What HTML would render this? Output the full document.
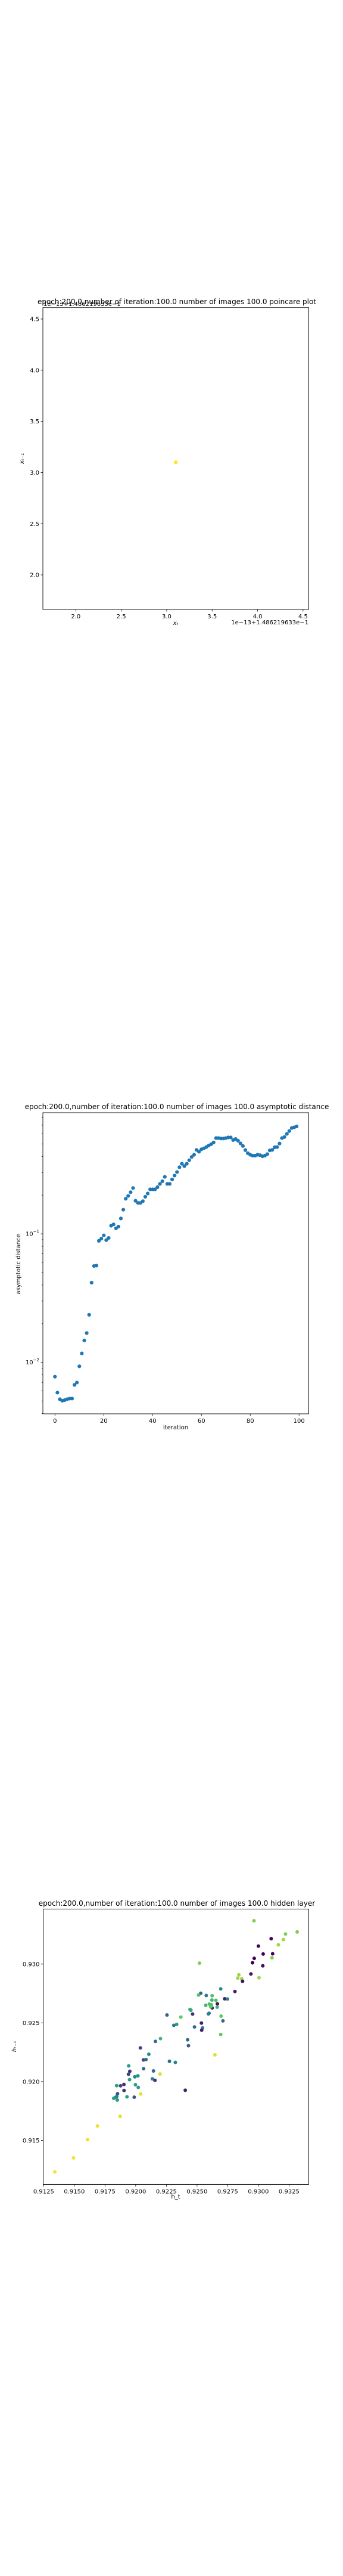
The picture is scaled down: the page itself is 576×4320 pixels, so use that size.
<!DOCTYPE html>
<html><head><meta charset="utf-8">
<style>
html,body{margin:0;padding:0;background:#fff;}
svg{display:block;font-family:"DejaVu Sans","Liberation Sans",sans-serif;}
</style></head>
<body>
<svg id="fig" width="576" height="4320" viewBox="0 0 576 4320" xmlns="http://www.w3.org/2000/svg">
<rect width="576" height="4320" fill="#fff"/>
<g id="c1"></g>
<g id="c2"></g>
<g id="c3"></g>
</svg>
<script>
// ---- Chart 1 data (poincare) ----
const poincareX = [3.1];
const poincareY = [3.1];
const poincareTicks = [2.0, 2.5, 3.0, 3.5, 4.0, 4.5];

// ---- Chart 2 data (asymptotic distance) ----
const iterations = Array.from({length:100},(_, i)=>i);
const asymDist = [0.00774,0.00582,0.00517,0.00503,0.00509,0.00517,0.00523,0.00523,0.00668,0.00697,
0.00932,0.01175,0.0148,0.0169,0.02344,0.0417,0.0562,0.0566,0.0882,0.0917,
0.0973,0.0893,0.0928,0.1156,0.1184,0.1103,0.1138,0.1316,0.154,0.1874,
0.1971,0.2107,0.227,0.1808,0.1738,0.1738,0.1794,0.1941,0.2058,0.2218,
0.2218,0.2218,0.2306,0.2445,0.2563,0.2773,0.2445,0.2445,0.2646,0.2838,
0.3022,0.3296,0.3508,0.336,0.3508,0.3736,0.3963,0.4121,0.4493,0.4353,
0.4546,0.4617,0.4728,0.4859,0.4977,0.5131,0.5553,0.5553,0.551,0.551,
0.5553,0.5619,0.5619,0.5358,0.5465,0.5297,0.5052,0.482,0.4477,0.4236,
0.4121,0.4055,0.4055,0.4121,0.4089,0.4009,0.4055,0.4169,0.4457,0.4493,
0.471,0.4728,0.5035,0.5553,0.5662,0.5984,0.6295,0.6652,0.673,0.6839];
const iterTicks = [0,20,40,60,80,100];

// ---- Chart 3 data (hidden layer) ----
const hT = [0.92964,0.93316,0.93221,0.93204,0.93104,0.93000,0.93163,0.93039,0.93116,0.93111,
0.92966,0.92952,0.93036,0.92520,0.92939,0.92841,0.92832,0.92864,0.92871,0.93005,
0.92693,0.92809,0.92530,0.92513,0.92575,0.92623,0.92725,0.92748,0.92621,0.92654,
0.92571,0.92600,0.92616,0.92666,0.92623,0.92611,0.92664,0.92443,0.92450,0.92593,
0.92598,0.92464,0.92255,0.92368,0.92696,0.92711,0.92536,0.92334,0.92311,0.92479,
0.92545,0.92538,0.92693,0.92202,0.92423,0.92161,0.92430,0.92038,0.92646,0.92107,
0.92063,0.92084,0.92275,0.92323,0.91943,0.92064,0.91952,0.92145,0.91941,0.92198,
0.92018,0.91993,0.91950,0.92136,0.92157,0.91904,0.91877,0.91845,0.91998,0.92021,
0.91905,0.92404,0.91852,0.92041,0.91929,0.91988,0.91845,0.91834,0.91821,0.91850,
0.91873,0.91688,0.91607,0.91493,0.91341];
const hPrev = [0.93369,0.93274,0.93256,0.93209,0.93216,0.93153,0.93164,0.93086,0.93088,0.93054,
0.93049,0.93011,0.92985,0.93009,0.92916,0.92909,0.92881,0.92875,0.92854,0.92884,
0.92789,0.92767,0.92752,0.92737,0.92733,0.92731,0.92705,0.92703,0.92694,0.92692,
0.92649,0.92660,0.92655,0.92662,0.92627,0.92636,0.92634,0.92614,0.92608,0.92576,
0.92582,0.92575,0.92567,0.92549,0.92558,0.92517,0.92498,0.92487,0.92479,0.92465,
0.92457,0.92438,0.92401,0.92366,0.92356,0.92343,0.92306,0.92287,0.92228,0.92233,
0.92185,0.92188,0.92173,0.92164,0.92134,0.92110,0.92088,0.92091,0.92063,0.92065,
0.92049,0.92041,0.92017,0.92024,0.92011,0.91976,0.91965,0.91966,0.91974,0.91951,
0.91925,0.91927,0.91897,0.91895,0.91871,0.91868,0.91873,0.91866,0.91858,0.91843,
0.91705,0.91623,0.91507,0.91351,0.91233];
const hColor = [0.8,0.8,0.8,0.85,0.0,0.0,0.85,0.0,0.0,0.8,
0.0,0.0,0.05,0.8,0.05,0.85,0.85,0.85,0.05,0.85,
0.5,0.1,0.3,0.7,0.4,0.7,0.1,0.45,0.65,0.7,
0.65,0.7,0.7,0.05,0.1,0.75,0.65,0.6,0.6,0.35,
0.45,0.15,0.3,0.75,0.75,0.35,0.1,0.55,0.4,0.35,
0.45,0.1,0.75,0.65,0.35,0.35,0.3,0.2,0.95,0.5,
0.2,0.35,0.35,0.45,0.55,0.35,0.15,0.35,0.2,0.95,
0.5,0.45,0.55,0.45,0.15,0.15,0.2,0.55,0.55,0.55,
0.15,0.1,0.25,0.95,0.55,0.25,0.4,0.5,0.55,0.55,
0.95,0.97,0.97,0.98,0.98];
const hXTicks = [0.9125,0.9150,0.9175,0.9200,0.9225,0.9250,0.9275,0.9300,0.9325];
const hYTicks = [0.915,0.920,0.925,0.930];

const NS="http://www.w3.org/2000/svg";
function mk(parent, tag, attrs, text){
  const e=document.createElementNS(NS,tag);
  for(const k in attrs) e.setAttribute(k, attrs[k]);
  if(text!==undefined) e.textContent=text;
  parent.appendChild(e); return e;
}
function viridis(t){
  const s=[[68,1,84],[59,82,139],[33,145,140],[94,201,98],[253,231,37]];
  t=Math.max(0,Math.min(1,t))*4; const i=Math.min(3,Math.floor(t)); const f=t-i;
  const c=s[i].map((v,k)=>Math.round(v+(s[i+1][k]-v)*f));
  return `rgb(${c[0]},${c[1]},${c[2]})`;
}
function frame(g,L,T,R,B){
  const r=mk(g,'rect',{x:L,y:T,width:R-L,height:B-T,fill:'none',stroke:'#000','stroke-width':0.9});
  
  
}
function xtick(g,x,B,label){
  const l=mk(g,'line',{x1:x,x2:x,y1:B,y2:B+3.5,stroke:'#000','stroke-width':0.8});
  
  
  const t=mk(g,'text',{x:x,y:B+15,'font-size':10,'text-anchor':'middle',fill:'#000'},label);
  
  
}
function ytick(g,y,L,label,len){
  const l=mk(g,'line',{x1:L-(len||3.5),x2:L,y1:y,y2:y,stroke:'#000','stroke-width':0.8});
  
  
  if(label!==null){
    const t=mk(g,'text',{x:L-6,y:y+3.5,'font-size':10,'text-anchor':'end',fill:'#000'},label);
    
    
  }
}

// ---------- Chart 1 ----------
(function(){
  const g=document.getElementById('c1');
  const L=72,R=518.4,T=515.7,B=1022;
  const x0=1.6375,x1=4.5625,y0=1.6625,y1=4.6125;
  const sx=v=>L+(v-x0)/(x1-x0)*(R-L);
  const sy=v=>B-(v-y0)/(y1-y0)*(B-T);
  frame(g,L,T,R,B);
  poincareTicks.forEach(v=>{xtick(g,sx(v),B,v.toFixed(1)); ytick(g,sy(v),L,v.toFixed(1));});
  poincareX.forEach((v,i)=>{
    const c=mk(g,'circle',{cx:sx(v),cy:sy(poincareY[i]),r:3.2,fill:'#fde725'});
    
    
  });
  const ti=mk(g,'text',{x:297,y:510,'font-size':12,'text-anchor':'middle'},'epoch:200.0,number of iteration:100.0 number of images 100.0 poincare plot');
  
  
  const o1=mk(g,'text',{x:73,y:513,'font-size':10},'1e−13+1.486219633e−1');
  
  
  const o2=mk(g,'text',{x:518,y:1047,'font-size':10,'text-anchor':'end'},'1e−13+1.486219633e−1');
  
  
  const xl=mk(g,'text',{x:295,y:1048,'font-size':10,'font-style':'italic','text-anchor':'middle'},'xₜ');
  
  
  const yl=mk(g,'text',{x:0,y:0,'font-size':10,'font-style':'italic','text-anchor':'middle',transform:'translate(40,769) rotate(-90)'},'xₜ₋₁');
  
  
})();

// ---------- Chart 2 ----------
(function(){
  const g=document.getElementById('c2');
  const L=72,R=518.4,T=1866,B=2371;
  const x0=-4.95,x1=103.95, ly0=-2.400, ly1=-0.058;
  const sx=v=>L+(v-x0)/(x1-x0)*(R-L);
  const sy=v=>B-(Math.log10(v)-ly0)/(ly1-ly0)*(B-T);
  frame(g,L,T,R,B);
  iterTicks.forEach(v=>xtick(g,sx(v),B,String(v)));
  [-3,-2,-1].forEach(e=>{
    for(let m=1;m<10;m++){
      const v=m*Math.pow(10,e); const lv=Math.log10(v);
      if(lv<ly0||lv>ly1) continue;
      if(m===1){
        ytick(g,sy(v),L,null,3.5);
        const t=mk(g,'text',{x:L-6,y:sy(v)+3.5,'font-size':10,'text-anchor':'end'});
        
        
        t.innerHTML='10<tspan dy="-5" font-size="7">−'+(-e)+'</tspan>';
      } else ytick(g,sy(v),L,null,2);
    }
  });
  iterations.forEach((it,i)=>{
    const c=mk(g,'circle',{cx:sx(it),cy:sy(asymDist[i]),r:3.1,fill:'#1f77b4'});
    
    
  });
  const ti=mk(g,'text',{x:297,y:1860,'font-size':12,'text-anchor':'middle'},'epoch:200.0,number of iteration:100.0  number of images 100.0 asymptotic distance');
  
  
  const xl=mk(g,'text',{x:295,y:2397,'font-size':10,'text-anchor':'middle'},'iteration');
  
  
  const yl=mk(g,'text',{x:0,y:0,'font-size':10,'text-anchor':'middle',transform:'translate(34,2120) rotate(-90)'},'asymptotic distance');
  
  
})();

// ---------- Chart 3 ----------
(function(){
  const g=document.getElementById('c3');
  const L=72.5,R=518.4,T=3201.6,B=3663.4;
  const x0=0.91246,x1=0.93410,y0=0.91125,y1=0.93468;
  const sx=v=>L+(v-x0)/(x1-x0)*(R-L);
  const sy=v=>B-(v-y0)/(y1-y0)*(B-T);
  frame(g,L,T,R,B);
  hXTicks.forEach(v=>xtick(g,sx(v),B,v.toFixed(4)));
  hYTicks.forEach(v=>ytick(g,sy(v),L,v.toFixed(3)));
  hT.forEach((v,i)=>{
    const c=mk(g,'circle',{cx:sx(v),cy:sy(hPrev[i]),r:3,fill:viridis(hColor[i])});
    
    
  });
  const ti=mk(g,'text',{x:297,y:3196,'font-size':12,'text-anchor':'middle'},'epoch:200.0,number of iteration:100.0  number of images 100.0 hidden layer');
  
  
  const xl=mk(g,'text',{x:295,y:3687,'font-size':10,'text-anchor':'middle'},'h_t');
  
  
  const yl=mk(g,'text',{x:0,y:0,'font-size':10,'font-style':'italic','text-anchor':'middle',transform:'translate(27,3432) rotate(-90)'},'hₜ₋₁');
  
  
})();
</script>
</body></html>
